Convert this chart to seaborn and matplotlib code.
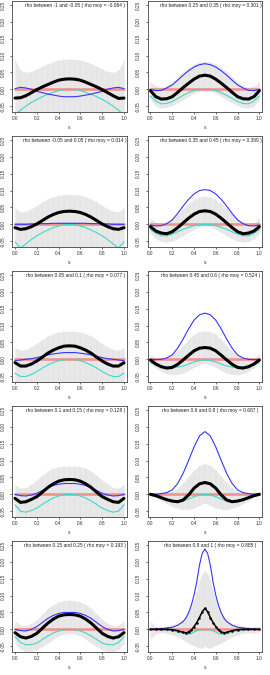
import numpy as np
import pandas as pd
import matplotlib
matplotlib.use("Agg")
import matplotlib.pyplot as plt
import seaborn as sns

# ---------------- data ----------------
x_std = [0.0, 0.05, 0.1, 0.15, 0.2, 0.25, 0.3, 0.35, 0.4, 0.45, 0.5,
         0.55, 0.6, 0.65, 0.7, 0.75, 0.8, 0.85, 0.9, 0.95, 1.0]
x_fine = [0.0, 0.05, 0.1, 0.15, 0.2, 0.25, 0.3, 0.325, 0.35, 0.375, 0.4, 0.425, 0.45, 0.475, 0.5,
          0.525, 0.55, 0.575, 0.6, 0.625, 0.65, 0.675, 0.7, 0.75, 0.8, 0.85, 0.9, 0.95, 1.0]

titles = [
    "rho between -1 and -0.05 ( rho moy = -0.084 )",
    "rho between 0.25 and 0.35 ( rho moy = 0.301 )",
    "rho between -0.05 and 0.05 ( rho moy = 0.014 )",
    "rho between 0.35 and 0.45 ( rho moy = 0.399 )",
    "rho between 0.05 and 0.1 ( rho moy = 0.077 )",
    "rho between 0.45 and 0.6 ( rho moy = 0.524 )",
    "rho between 0.1 and 0.15 ( rho moy = 0.128 )",
    "rho between 0.6 and 0.8 ( rho moy = 0.687 )",
    "rho between 0.15 and 0.25 ( rho moy = 0.193 )",
    "rho between 0.8 and 1 ( rho moy = 0.885 )",
]

# panel 1 : rho -1 .. -0.05
black_1 = [-0.026,-0.025,-0.019,-0.010,-0.001,0.007,0.014,0.021,0.027,0.030,0.031,0.030,0.027,0.021,0.014,0.007,-0.001,-0.010,-0.019,-0.027,-0.026]
blue_1 = [0.002,0.006,0.004,0.000,-0.006,-0.010,-0.014,-0.017,-0.020,-0.022,-0.022,-0.022,-0.020,-0.017,-0.014,-0.010,-0.006,0.000,0.004,0.006,0.002]
cyan_1 = [-0.075,-0.062,-0.050,-0.039,-0.030,-0.022,-0.015,-0.009,-0.004,-0.001,0.000,-0.001,-0.004,-0.009,-0.015,-0.022,-0.030,-0.039,-0.050,-0.062,-0.075]
upper_1 = [0.088,0.057,0.050,0.053,0.060,0.068,0.076,0.082,0.087,0.089,0.090,0.089,0.087,0.082,0.076,0.068,0.060,0.053,0.050,0.057,0.088]
lower_1 = [-0.095,-0.098,-0.100,-0.099,-0.097,-0.094,-0.091,-0.089,-0.087,-0.086,-0.086,-0.086,-0.087,-0.089,-0.091,-0.094,-0.097,-0.099,-0.100,-0.098,-0.095]

# panel 2 : rho 0.25 .. 0.35
black_2 = [-0.004,-0.022,-0.029,-0.028,-0.022,-0.009,0.005,0.018,0.030,0.039,0.042,0.039,0.030,0.018,0.005,-0.009,-0.022,-0.028,-0.029,-0.022,-0.004]
blue_2 = [0.000,-0.004,-0.003,0.004,0.013,0.027,0.042,0.055,0.066,0.073,0.076,0.073,0.066,0.055,0.042,0.027,0.013,0.004,-0.003,-0.004,0.000]
cyan_2 = [-0.020,-0.035,-0.043,-0.042,-0.036,-0.027,-0.018,-0.010,-0.004,-0.001,0.000,-0.001,-0.004,-0.010,-0.018,-0.027,-0.036,-0.042,-0.043,-0.035,-0.020]
upper_2 = [0.022,0.010,0.006,0.011,0.023,0.037,0.052,0.065,0.075,0.081,0.083,0.081,0.075,0.065,0.052,0.037,0.023,0.011,0.006,0.010,0.022]
lower_2 = [-0.031,-0.050,-0.056,-0.054,-0.048,-0.040,-0.031,-0.021,-0.012,-0.006,-0.004,-0.006,-0.012,-0.021,-0.031,-0.040,-0.048,-0.054,-0.056,-0.050,-0.031]

# panel 3 : rho -0.05 .. 0.05
black_3 = [-0.010,-0.015,-0.013,-0.007,0.001,0.011,0.021,0.029,0.035,0.038,0.039,0.038,0.035,0.029,0.021,0.011,0.001,-0.007,-0.013,-0.015,-0.010]
blue_3 = [0.000,0.000,0.000,0.001,0.001,0.002,0.002,0.003,0.003,0.003,0.003,0.003,0.003,0.003,0.002,0.002,0.001,0.001,0.000,0.000,0.000]
cyan_3 = [-0.052,-0.070,-0.058,-0.045,-0.034,-0.025,-0.017,-0.010,-0.005,-0.001,0.000,-0.001,-0.005,-0.010,-0.017,-0.025,-0.034,-0.045,-0.058,-0.070,-0.052]
upper_3 = [0.049,0.037,0.039,0.046,0.056,0.066,0.075,0.082,0.086,0.088,0.089,0.088,0.086,0.082,0.075,0.066,0.056,0.046,0.039,0.037,0.049]
lower_3 = [-0.090,-0.094,-0.095,-0.094,-0.092,-0.090,-0.088,-0.086,-0.085,-0.084,-0.084,-0.084,-0.085,-0.086,-0.088,-0.090,-0.092,-0.094,-0.095,-0.094,-0.090]

# panel 4 : rho 0.35 .. 0.45
black_4 = [-0.007,-0.020,-0.026,-0.028,-0.022,-0.010,0.004,0.018,0.030,0.038,0.040,0.038,0.030,0.018,0.004,-0.010,-0.022,-0.028,-0.026,-0.020,-0.007]
blue_4 = [-0.002,-0.005,-0.004,0.002,0.013,0.032,0.054,0.074,0.090,0.100,0.103,0.100,0.090,0.074,0.054,0.032,0.013,0.002,-0.004,-0.005,-0.002]
cyan_4 = [-0.015,-0.027,-0.034,-0.034,-0.029,-0.022,-0.015,-0.009,-0.004,-0.001,0.000,-0.001,-0.004,-0.009,-0.015,-0.022,-0.029,-0.034,-0.034,-0.027,-0.015]
upper_4 = [0.018,0.005,0.001,0.005,0.015,0.030,0.047,0.062,0.074,0.081,0.083,0.081,0.074,0.062,0.047,0.030,0.015,0.005,0.001,0.005,0.018]
lower_4 = [-0.026,-0.043,-0.051,-0.053,-0.050,-0.043,-0.034,-0.024,-0.015,-0.008,-0.005,-0.008,-0.015,-0.024,-0.034,-0.043,-0.050,-0.053,-0.051,-0.043,-0.026]

# panel 5 : rho 0.05 .. 0.1
black_5 = [-0.010,-0.020,-0.020,-0.014,-0.005,0.006,0.018,0.027,0.034,0.039,0.040,0.039,0.034,0.027,0.018,0.006,-0.005,-0.014,-0.020,-0.020,-0.010]
blue_5 = [-0.004,-0.002,0.000,0.002,0.005,0.009,0.013,0.016,0.018,0.020,0.020,0.020,0.018,0.016,0.013,0.009,0.005,0.002,0.000,-0.002,-0.004]
cyan_5 = [-0.041,-0.051,-0.051,-0.045,-0.036,-0.026,-0.017,-0.010,-0.004,-0.001,0.000,-0.001,-0.004,-0.010,-0.017,-0.026,-0.036,-0.045,-0.051,-0.051,-0.041]
upper_5 = [0.035,0.027,0.029,0.037,0.047,0.058,0.069,0.076,0.081,0.083,0.083,0.083,0.081,0.076,0.069,0.058,0.047,0.037,0.029,0.027,0.035]
lower_5 = [-0.088,-0.092,-0.093,-0.092,-0.090,-0.088,-0.086,-0.084,-0.083,-0.082,-0.082,-0.082,-0.083,-0.084,-0.086,-0.088,-0.090,-0.092,-0.093,-0.092,-0.088]

# panel 6 : rho 0.45 .. 0.6
black_6 = [-0.002,-0.014,-0.022,-0.026,-0.024,-0.015,-0.002,0.012,0.025,0.033,0.035,0.033,0.025,0.012,-0.002,-0.015,-0.024,-0.026,-0.022,-0.014,-0.002]
blue_6 = [0.000,-0.001,0.000,0.004,0.013,0.033,0.060,0.090,0.116,0.132,0.137,0.132,0.116,0.090,0.060,0.033,0.013,0.004,0.000,-0.001,0.000]
cyan_6 = [-0.010,-0.016,-0.020,-0.023,-0.024,-0.023,-0.020,-0.014,-0.008,-0.004,-0.002,-0.004,-0.008,-0.014,-0.020,-0.023,-0.024,-0.023,-0.020,-0.016,-0.010]
upper_6 = [0.013,0.005,0.003,0.006,0.013,0.026,0.042,0.059,0.074,0.082,0.084,0.082,0.074,0.059,0.042,0.026,0.013,0.006,0.003,0.005,0.013]
lower_6 = [-0.012,-0.026,-0.036,-0.043,-0.046,-0.045,-0.041,-0.033,-0.024,-0.016,-0.012,-0.016,-0.024,-0.033,-0.041,-0.045,-0.046,-0.043,-0.036,-0.026,-0.012]

# panel 7 : rho 0.1 .. 0.15
black_7 = [-0.012,-0.024,-0.022,-0.015,-0.007,0.006,0.020,0.031,0.039,0.043,0.044,0.043,0.039,0.031,0.020,0.006,-0.007,-0.015,-0.022,-0.024,-0.012]
blue_7 = [0.000,-0.004,-0.005,-0.002,0.003,0.011,0.020,0.026,0.030,0.032,0.032,0.032,0.030,0.026,0.020,0.011,0.003,-0.002,-0.005,-0.004,0.000]
cyan_7 = [-0.031,-0.050,-0.053,-0.048,-0.041,-0.030,-0.020,-0.011,-0.005,-0.001,0.000,-0.001,-0.005,-0.011,-0.020,-0.030,-0.041,-0.048,-0.053,-0.050,-0.031]
upper_7 = [0.029,0.018,0.020,0.030,0.042,0.056,0.069,0.077,0.081,0.083,0.084,0.083,0.081,0.077,0.069,0.056,0.042,0.030,0.020,0.018,0.029]
lower_7 = [-0.085,-0.090,-0.092,-0.091,-0.089,-0.087,-0.085,-0.083,-0.082,-0.081,-0.081,-0.081,-0.082,-0.083,-0.085,-0.087,-0.089,-0.091,-0.092,-0.090,-0.085]

# panel 8 : rho 0.6 .. 0.8
black_8 = [0.000,-0.004,-0.010,-0.016,-0.020,-0.022,-0.017,-0.002,0.018,0.031,0.035,0.031,0.018,-0.002,-0.017,-0.022,-0.020,-0.016,-0.010,-0.004,0.000]
blue_8 = [0.000,0.000,0.002,0.005,0.013,0.032,0.062,0.100,0.140,0.173,0.186,0.173,0.140,0.100,0.062,0.032,0.013,0.005,0.002,0.000,0.000]
cyan_8 = [-0.002,-0.006,-0.012,-0.017,-0.020,-0.021,-0.020,-0.014,-0.007,-0.002,0.000,-0.002,-0.007,-0.014,-0.020,-0.021,-0.020,-0.017,-0.012,-0.006,-0.002]
upper_8 = [0.006,0.005,0.006,0.006,0.008,0.018,0.035,0.053,0.072,0.086,0.091,0.086,0.072,0.053,0.035,0.018,0.008,0.006,0.006,0.005,0.006]
lower_8 = [-0.004,-0.010,-0.020,-0.028,-0.036,-0.042,-0.046,-0.045,-0.041,-0.033,-0.026,-0.033,-0.041,-0.045,-0.046,-0.042,-0.036,-0.028,-0.020,-0.010,-0.004]

# panel 9 : rho 0.15 .. 0.25
black_9 = [-0.010,-0.022,-0.026,-0.021,-0.012,0.003,0.018,0.030,0.039,0.043,0.044,0.043,0.039,0.030,0.018,0.003,-0.012,-0.021,-0.026,-0.022,-0.010]
blue_9 = [0.000,-0.004,-0.005,0.000,0.008,0.020,0.032,0.041,0.047,0.050,0.050,0.050,0.047,0.041,0.032,0.020,0.008,0.000,-0.005,-0.004,0.000]
cyan_9 = [-0.022,-0.039,-0.046,-0.045,-0.041,-0.030,-0.020,-0.011,-0.005,-0.001,0.000,-0.001,-0.005,-0.011,-0.020,-0.030,-0.041,-0.045,-0.046,-0.039,-0.022]
upper_9 = [0.025,0.012,0.010,0.018,0.029,0.045,0.062,0.073,0.081,0.085,0.086,0.085,0.081,0.073,0.062,0.045,0.029,0.018,0.010,0.012,0.025]
lower_9 = [-0.041,-0.060,-0.066,-0.066,-0.061,-0.051,-0.041,-0.030,-0.020,-0.014,-0.012,-0.014,-0.020,-0.030,-0.041,-0.051,-0.061,-0.066,-0.066,-0.060,-0.041]

# panel 10 : rho 0.8 .. 1  (finer grid near the peak)
black_10 = [0.000,0.000,0.000,0.000,-0.001,-0.004,-0.009,-0.010,-0.008,-0.002,0.008,0.020,0.035,0.052,0.062,0.052,0.035,0.020,0.008,-0.002,-0.008,-0.010,-0.009,-0.004,-0.001,0.000,0.000,0.000,0.000]
blue_10 = [0.000,0.001,0.002,0.004,0.006,0.012,0.023,0.033,0.049,0.071,0.101,0.140,0.190,0.225,0.238,0.225,0.190,0.140,0.101,0.071,0.049,0.033,0.023,0.012,0.006,0.004,0.002,0.001,0.000]
cyan_10 = [0.000,0.000,-0.001,-0.002,-0.004,-0.008,-0.012,-0.014,-0.014,-0.012,-0.008,-0.005,-0.002,-0.001,0.000,-0.001,-0.002,-0.005,-0.008,-0.012,-0.014,-0.014,-0.012,-0.008,-0.004,-0.002,-0.001,0.000,0.000]
upper_10 = [0.023,0.008,0.008,0.010,0.013,0.018,0.027,0.038,0.052,0.068,0.086,0.113,0.145,0.165,0.175,0.165,0.145,0.113,0.086,0.068,0.052,0.038,0.027,0.018,0.013,0.010,0.008,0.008,0.010]
lower_10 = [-0.029,-0.012,-0.010,-0.012,-0.016,-0.022,-0.031,-0.036,-0.041,-0.045,-0.048,-0.052,-0.056,-0.055,-0.050,-0.055,-0.056,-0.052,-0.048,-0.045,-0.041,-0.036,-0.031,-0.022,-0.016,-0.012,-0.010,-0.012,-0.008]

panels = [
    (x_std, black_1, blue_1, cyan_1, upper_1, lower_1),
    (x_std, black_2, blue_2, cyan_2, upper_2, lower_2),
    (x_std, black_3, blue_3, cyan_3, upper_3, lower_3),
    (x_std, black_4, blue_4, cyan_4, upper_4, lower_4),
    (x_std, black_5, blue_5, cyan_5, upper_5, lower_5),
    (x_std, black_6, blue_6, cyan_6, upper_6, lower_6),
    (x_std, black_7, blue_7, cyan_7, upper_7, lower_7),
    (x_std, black_8, blue_8, cyan_8, upper_8, lower_8),
    (x_std, black_9, blue_9, cyan_9, upper_9, lower_9),
    (x_fine, black_10, blue_10, cyan_10, upper_10, lower_10),
]

x_ticks = [0.0, 0.2, 0.4, 0.6, 0.8, 1.0]
x_ticklabels = ["0.0", "0.2", "0.4", "0.6", "0.8", "1.0"]
y_ticks = [-0.05, 0.00, 0.05, 0.10, 0.15, 0.20, 0.25]
y_ticklabels = ["-0.05", "0.00", "0.05", "0.10", "0.15", "0.20", "0.25"]

# ---------------- style ----------------
sns.set_style("white")
plt.rcParams["font.family"] = ["Liberation Sans", "DejaVu Sans"]

W, H = 270, 675
fig = plt.figure(figsize=(W / 100, H / 100), dpi=100)

col_left_px = [12.3, 147.7]
box_w_px = 114.4
box_h_px = 110.7

for i, (xs, blk, blu, cya, up, lo) in enumerate(panels):
    row, col = divmod(i, 2)
    top_px = 135 * row + 1.0
    ax = fig.add_axes([col_left_px[col] / W, 1 - (top_px + box_h_px) / H,
                       box_w_px / W, box_h_px / H])
    ax.set_facecolor("white")
    ax.fill_between(xs, lo, up, color="#e8e8e8", lw=0, zorder=1)
    ax.vlines(xs, lo, up, color="#dedede", lw=0.3, zorder=1.2)
    zero = [0.0 for _ in xs]
    sns.lineplot(x=xs, y=zero, ax=ax, color="#f08a84", lw=1.9, alpha=0.9,
                 estimator=None, sort=False, zorder=2)
    sns.lineplot(x=xs, y=cya, ax=ax, color="#40d8c8", lw=0.8,
                 estimator=None, sort=False, zorder=3)
    sns.lineplot(x=xs, y=blu, ax=ax, color="#3535ff", lw=0.8,
                 estimator=None, sort=False, zorder=4)
    if i == 9:
        sns.lineplot(x=xs, y=blk, ax=ax, color="black", lw=1.1, marker="o",
                     markersize=1.8, markeredgewidth=0, estimator=None, sort=False, zorder=5)
    else:
        sns.lineplot(x=xs, y=blk, ax=ax, color="black", lw=2.2,
                     estimator=None, sort=False, zorder=5)

    ax.set_xlim(-0.025, 1.025)
    ax.set_ylim(-0.0664, 0.2619)
    ax.set_xticks(x_ticks)
    ax.set_xticklabels(x_ticklabels)
    ax.set_yticks(y_ticks)
    ax.set_yticklabels(y_ticklabels, rotation=90, va="center")
    ax.tick_params(axis="both", which="both", direction="out", length=1.6,
                   width=0.5, colors="#333333", labelsize=3.4, left=True, bottom=True)
    ax.tick_params(axis="x", pad=1.4)
    ax.tick_params(axis="y", pad=3.2)
    for sp in ax.spines.values():
        sp.set_visible(True)
        sp.set_color("#444444")
        sp.set_linewidth(0.6)
    ax.set_xlabel("s", fontsize=3.6, labelpad=3.0, color="#333333")
    ax.set_ylabel("")
    ax.text(0.55, 0.985, titles[i], transform=ax.transAxes, ha="center", va="top",
            fontsize=3.5, color="#222222", zorder=6)

fig.savefig("out.png", dpi=100)
